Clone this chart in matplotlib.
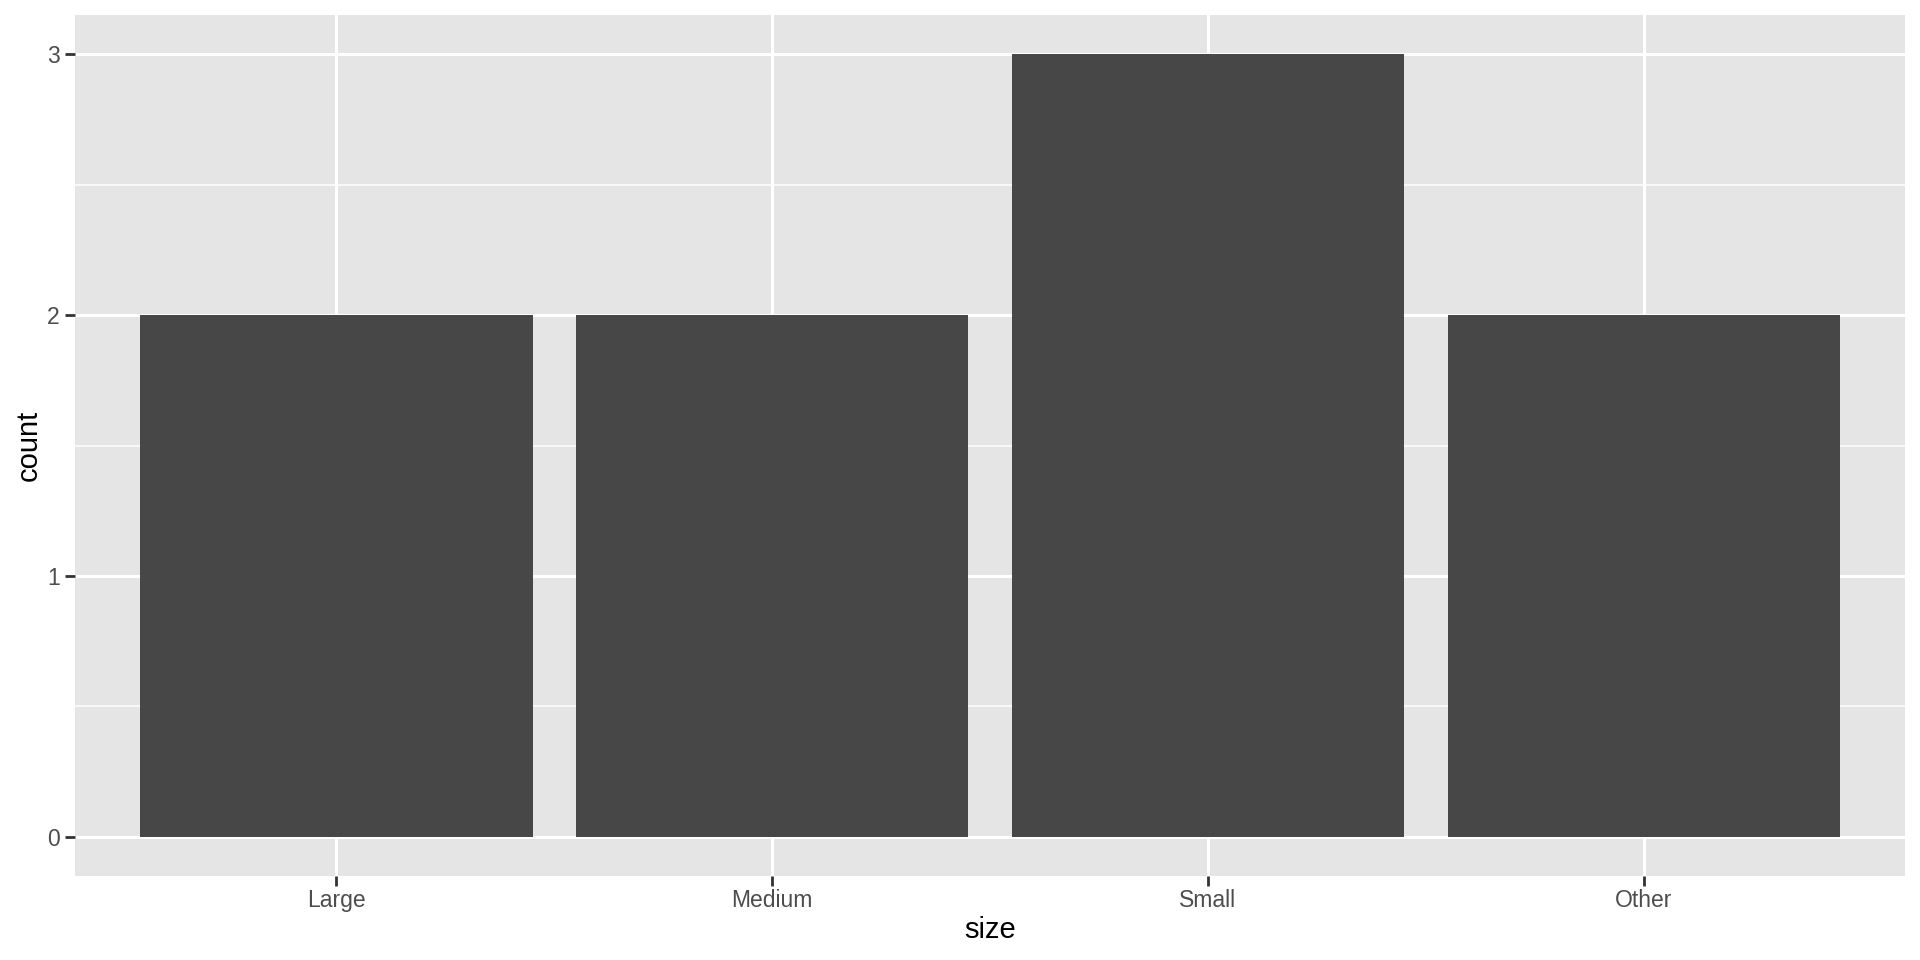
import matplotlib
matplotlib.use("Agg")
import matplotlib.pyplot as plt
from matplotlib.ticker import MultipleLocator

categories = ["Large", "Medium", "Small", "Other"]
counts = [2, 2, 3, 2]

plt.rcParams['font.family'] = ['Liberation Sans', 'DejaVu Sans']

fig = plt.figure(figsize=(19.2, 9.6), dpi=100)
ax = fig.add_axes([75/1920, (960-876)/960, 1830/1920, 861/960])
ax.set_facecolor("#E5E5E5")

x = list(range(1, len(categories) + 1))
ax.bar(x, counts, width=0.9, color="#474747", zorder=3)

ax.set_xlim(0.4, len(categories) + 0.6)
ymax = max(counts)
ax.set_ylim(-0.05 * ymax, 1.05 * ymax)
ax.set_xticks(x)
ax.set_xticklabels(categories)
ax.yaxis.set_major_locator(MultipleLocator(1))
ax.yaxis.set_minor_locator(MultipleLocator(0.5))

ax.grid(which="major", color="white", linewidth=2.2, zorder=1)
ax.grid(which="minor", axis="y", color="white", linewidth=1.1, zorder=1)
ax.set_axisbelow(True)

for s in ax.spines.values():
    s.set_visible(False)

ax.tick_params(axis="x", which="major", length=7, width=2, color="#333333",
               labelsize=16.5, labelcolor="#4D4D4D", pad=2.5)
ax.tick_params(axis="y", which="major", length=7, width=2, color="#333333",
               labelsize=16.5, labelcolor="#4D4D4D", pad=4)
ax.tick_params(axis="both", which="minor", length=0)

ax.set_xlabel("size", fontsize=21, color="black", labelpad=3)
ax.set_ylabel("count", fontsize=21, color="black", labelpad=3)

fig.savefig("out.png", dpi=100, facecolor="white")
